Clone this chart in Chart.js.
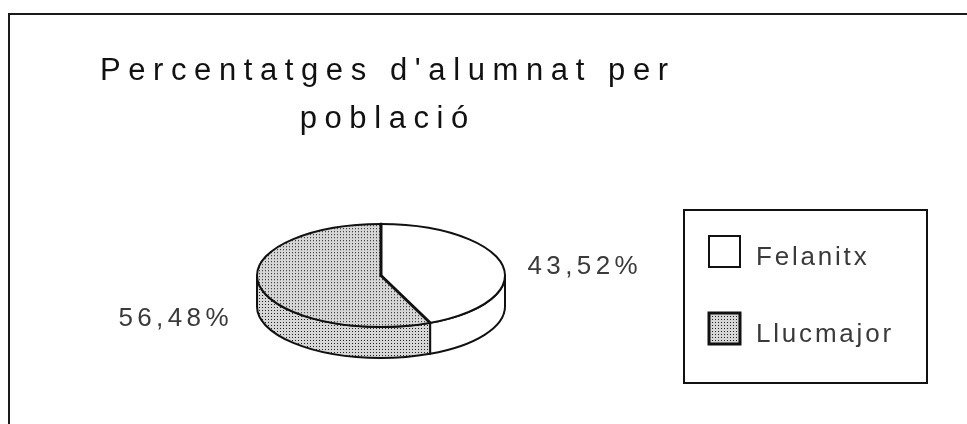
<!DOCTYPE html>
<html><head><meta charset="utf-8">
<script src="https://cdn.jsdelivr.net/npm/chart.js@4/dist/chart.umd.min.js"></script>
<style>html,body{margin:0;padding:0;background:#fff}#wrap{width:967px;height:424px;position:relative}</style>
</head><body><div id="wrap"><canvas id="c"></canvas></div>
<script>
const TITLE_LINES = ["Percentatges d'alumnat per", "població"];
const LABELS = ["Felanitx", "Llucmajor"];
const VALUES = [43.52, 56.48];

const FONT = '"Liberation Sans", Arial, sans-serif';
const TILT = 0.415;   // vertical squash of the pie top
const DEPTH = 31;     // thickness of the 3D side

function makePattern(scaleY) {
  const t = document.createElement('canvas');
  t.width = 3; t.height = 3;
  const g = t.getContext('2d');
  g.fillStyle = '#d6d6d6'; g.fillRect(0, 0, 3, 3);
  g.fillStyle = '#222'; g.fillRect(1, 1, 1, 1);
  const p = document.createElement('canvas').getContext('2d').createPattern(t, 'repeat');
  if (scaleY && p.setTransform) p.setTransform(new DOMMatrix().scale(1, 1 / scaleY));
  return p;
}
const FLAT_FILLS = ['#ffffff', makePattern(0)];
const TOP_FILLS = ['#ffffff', makePattern(TILT)];

function fmt(v) { return v.toFixed(2).replace('.', ',') + '%'; }

function drawSpaced(ctx, text, x, y, spacing, align) {
  ctx.save();
  if ('letterSpacing' in ctx) ctx.letterSpacing = '0px';
  const w0 = ctx.measureText(text).width;
  const w = w0 + spacing * (text.length - 1);
  let sx = x;
  if (align === 'center') sx = x - w / 2;
  else if (align === 'right') sx = x - w;
  ctx.textAlign = 'left';
  ctx.textBaseline = 'alphabetic';
  if ('letterSpacing' in ctx) ctx.letterSpacing = spacing + 'px';
  ctx.fillText(text, sx, y);
  ctx.restore();
}

function geom(chart) {
  const arcs = chart.getDatasetMeta(0).data;
  const a0 = arcs[0];
  const cx = a0.x, cy = a0.y, rx = a0.outerRadius;
  return {arcs, cx, cy, rx, ry: rx * TILT};
}

const pie3d = {
  id: 'pie3d',
  beforeDraw(chart) {
    const ctx = chart.ctx;
    ctx.save();
    ctx.strokeStyle = '#1a1a1a';
    ctx.lineWidth = 2;
    ctx.beginPath();
    ctx.moveTo(9, 424);
    ctx.lineTo(9, 14);
    ctx.lineTo(967, 14);
    ctx.stroke();
    ctx.restore();
  },
  beforeDatasetsDraw(chart) {
    const ctx = chart.ctx;
    const {arcs, cx, cy, rx, ry} = geom(chart);
    ctx.save();
    ctx.strokeStyle = '#111';
    ctx.lineWidth = 2;
    ctx.lineJoin = 'round';
    arcs.forEach((arc, i) => {
      const s = arc.startAngle, e = arc.endAngle;
      for (let k = -1; k <= 1; k++) {
        const lo = Math.max(s + 2 * Math.PI * k, 0);
        const hi = Math.min(e + 2 * Math.PI * k, Math.PI);
        if (hi > lo) {
          ctx.beginPath();
          ctx.ellipse(cx, cy, rx, ry, 0, lo, hi, false);
          ctx.lineTo(cx + rx * Math.cos(hi), cy + ry * Math.sin(hi) + DEPTH);
          ctx.ellipse(cx, cy + DEPTH, rx, ry, 0, hi, lo, true);
          ctx.closePath();
          ctx.fillStyle = FLAT_FILLS[i];
          ctx.fill();
          ctx.stroke();
        }
      }
    });
    ctx.restore();
    ctx.save();
    ctx.translate(cx, cy);
    ctx.scale(1, TILT);
    ctx.translate(-cx, -cy);
  },
  afterDatasetsDraw(chart) {
    const ctx = chart.ctx;
    ctx.restore();
    const {arcs, cx, cy, rx, ry} = geom(chart);
    ctx.save();
    ctx.strokeStyle = '#111';
    ctx.lineWidth = 2;
    ctx.beginPath();
    ctx.ellipse(cx, cy, rx, ry, 0, 0, Math.PI * 2);
    ctx.stroke();
    ctx.lineWidth = 3;
    ctx.lineCap = 'round';
    arcs.forEach(arc => {
      ctx.beginPath();
      ctx.moveTo(cx, cy);
      ctx.lineTo(cx + rx * Math.cos(arc.startAngle), cy + ry * Math.sin(arc.startAngle));
      ctx.stroke();
    });
    // value labels
    ctx.fillStyle = '#3a3a3a';
    ctx.font = '26px ' + FONT;
    arcs.forEach((arc, i) => {
      const mid = (arc.startAngle + arc.endAngle) / 2;
      const c = Math.cos(mid), s = Math.sin(mid);
      const px = cx + rx * c;
      const py = cy + ry * s + (s > 0 ? DEPTH : 0);
      const val = chart.data.datasets[0].data[i];
      if (c >= 0) drawSpaced(ctx, fmt(val), px + 25, py + 9, 4.4, 'left');
      else drawSpaced(ctx, fmt(val), px - 31, py + 9, 4.4, 'right');
    });
    ctx.restore();
  },
  afterDraw(chart) {
    const ctx = chart.ctx;
    ctx.save();
    // title
    ctx.fillStyle = '#111';
    ctx.font = '31px ' + FONT;
    TITLE_LINES.forEach((line, i) => {
      drawSpaced(ctx, line, 384, 80 + i * 48, 7.6, 'center');
    });
    // legend box
    const bx = 684, by = 210, bw = 243, bh = 173;
    ctx.strokeStyle = '#111';
    ctx.lineWidth = 2;
    ctx.strokeRect(bx, by, bw, bh);
    ctx.font = '26px ' + FONT;
    chart.data.labels.forEach((lab, i) => {
      const sx = bx + 25, sy = by + 26 + i * 77;
      ctx.fillStyle = FLAT_FILLS[i];
      ctx.fillRect(sx, sy, 31, 31);
      ctx.lineWidth = i === 0 ? 2 : 3;
      ctx.strokeStyle = '#111';
      ctx.strokeRect(sx, sy, 31, 31);
      ctx.fillStyle = '#3a3a3a';
      drawSpaced(ctx, lab, sx + 47, sy + 29, 2.8, 'left');
    });
    ctx.restore();
  }
};

new Chart(document.getElementById('c'), {
  type: 'pie',
  data: {
    labels: LABELS,
    datasets: [{
      data: VALUES,
      backgroundColor: TOP_FILLS,
      borderWidth: 0,
      hoverOffset: 0,
      offset: 0,
      clip: false
    }]
  },
  options: {
    responsive: true,
    maintainAspectRatio: false,
    animation: false,
    events: [],
    devicePixelRatio: 1,
    layout: { padding: { left: 257, right: 462, top: 151.5, bottom: 24.5 } },
    plugins: {
      legend: { display: false },
      title: { display: false },
      tooltip: { enabled: false }
    }
  },
  plugins: [pie3d]
});
</script>
</body></html>
